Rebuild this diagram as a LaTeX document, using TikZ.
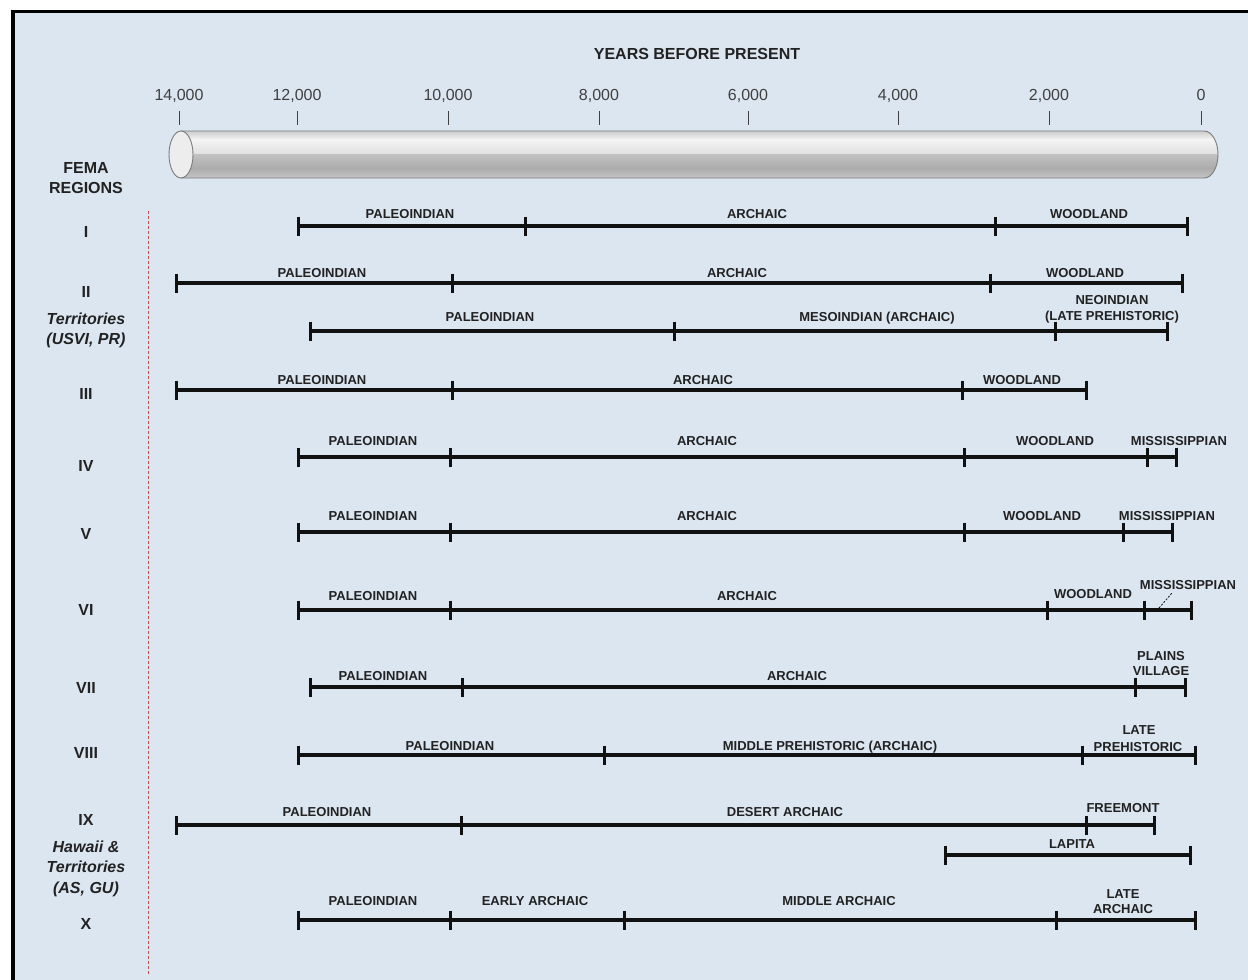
\documentclass[tikz,border=0pt]{standalone}
\usepackage{fontspec}
\setmainfont{Liberation Sans}
\definecolor{bg}{HTML}{DCE6F1}
\definecolor{ink}{HTML}{111111}
\definecolor{txt}{HTML}{222222}
\definecolor{yrc}{HTML}{404040}
\definecolor{reddash}{HTML}{C0504D}
\definecolor{cyA}{HTML}{C8C8C8}
\definecolor{cyB}{HTML}{F4F4F4}
\definecolor{cyC}{HTML}{E0E0E0}
\definecolor{cyD}{HTML}{C2C2C2}
\definecolor{cyE}{HTML}{ABABAB}
\definecolor{cyF}{HTML}{C8C8C8}
\definecolor{cyline}{HTML}{7A7A7A}
\definecolor{cycap}{HTML}{EDEDED}
\newcommand\tline[3]{%
  \foreach \xx [count=\i] in {#3}{%
    \coordinate (#1-\i) at (\xx,#2);
    \draw[tk] ([yshift=9.5pt]#1-\i) -- ([yshift=-9.5pt]#1-\i);
  }%
}
\begin{document}
\begin{tikzpicture}[x=1pt,y=-1pt,
  seg/.style={line width=3.2pt, draw=ink},
  tk/.style={line width=3pt, draw=ink},
  lab/.style={font=\bfseries\fontsize{13}{15}\selectfont, text=txt, inner sep=0pt, anchor=base},
  reg/.style={font=\bfseries\fontsize{16}{18}\selectfont, text=txt, inner sep=0pt, anchor=base},
  regit/.style={font=\bfseries\itshape\fontsize{16}{18}\selectfont, text=txt, inner sep=0pt, anchor=base},
  yr/.style={font=\fontsize{16}{18}\selectfont, text=yrc, inner sep=0pt, anchor=base},
  axtick/.style={draw=yrc, line width=1pt},
  redline/.style={draw=reddash, line width=0.8pt, dash pattern=on 3pt off 2pt},
  leader/.style={draw=ink, line width=0.8pt, dash pattern=on 2pt off 1.5pt}]
\useasboundingbox (0,0) rectangle (1248,980);
\fill[white] (0,0) rectangle (1248,980);
\fill[bg] (13,11.5) rectangle (1248,980);
\draw[line width=3.8pt] (13,980) -- (13,11.5) -- (1248,11.5);

% title
\node[font=\bfseries\fontsize{16}{18}\selectfont, text=txt, inner sep=0pt, anchor=base] (title) at (697,59) {YEARS BEFORE PRESENT};

% axis years
\foreach \xx/\lbl [count=\k] in {179/{14,000},297/{12,000},448/{10,000},599/{8,000},748/{6,000},898/{4,000},1049/{2,000},1201/0}{
  \node[yr] (yr\k) at (\xx,100) {\lbl};
  \coordinate (ta\k) at (\xx,111);
  \coordinate (tb\k) at (\xx,125);
  \draw[axtick] (ta\k) -- (tb\k);
}

% cylinder
\begin{scope}
\clip (181,131) -- (1204,131) arc[start angle=-90,end angle=90,x radius=14,y radius=23.5] -- (181,178) -- cycle;
\shade[top color=cyA, bottom color=cyB] (160,130) rectangle (1230,139.5);
\shade[top color=cyB, bottom color=cyC] (160,139) rectangle (1230,154.5);
\shade[top color=cyD, bottom color=cyE] (160,154) rectangle (1230,168.5);
\shade[top color=cyE, bottom color=cyF] (160,168) rectangle (1230,179);
\end{scope}
\draw[cyline, line width=0.9pt] (181,131) -- (1204,131) arc[start angle=-90,end angle=90,x radius=14,y radius=23.5] -- (181,178);
\draw[fill=cycap, draw=cyline, line width=0.9pt] (181,154.5) ellipse[x radius=12, y radius=23.5];

% region labels
\node[reg] (fema) at (86,173) {FEMA};
\node[reg] (regions) at (86,193) {REGIONS};
\node[reg] (gI) at (86,237) {I};
\node[reg] (gII) at (86,297) {II};
\node[regit] (gIIa) at (86,324) {Territories};
\node[regit] (gIIb) at (86,344) {(USVI, PR)};
\node[reg] (gIII) at (86,399) {III};
\node[reg] (gIV) at (86,471) {IV};
\node[reg] (gV) at (86,539) {V};
\node[reg] (gVI) at (86,615) {VI};
\node[reg] (gVII) at (86,693) {VII};
\node[reg] (gVIII) at (86,758) {VIII};
\node[reg] (gIX) at (86,825) {IX};
\node[regit] (gIXa) at (86,852) {Hawaii \&};
\node[regit] (gIXb) at (86,872) {Territories};
\node[regit] (gIXc) at (86,893) {(AS, GU)};
\node[reg] (gX) at (86,929) {X};

% red dashed divider
\coordinate (rdA) at (148,211);
\coordinate (rdB) at (148,975);
\draw[redline] (rdA) -- (rdB);

% timelines
\tline{ra}{226}{298,525,995,1187}
\draw[seg] (ra-1) -- (ra-4);
\node[lab] (ra-l1) at (410,218) {PALEOINDIAN};
\node[lab] (ra-l2) at (757,218) {ARCHAIC};
\node[lab] (ra-l3) at (1089,218) {WOODLAND};

\tline{rb}{283}{176,452,990,1182}
\draw[seg] (rb-1) -- (rb-4);
\node[lab] (rb-l1) at (322,277) {PALEOINDIAN};
\node[lab] (rb-l2) at (737,277) {ARCHAIC};
\node[lab] (rb-l3) at (1085,277) {WOODLAND};

\tline{rc}{331}{310,674,1055,1167}
\draw[seg] (rc-1) -- (rc-4);
\node[lab] (rc-l1) at (490,321) {PALEOINDIAN};
\node[lab] (rc-l2) at (877,321) {MESOINDIAN (ARCHAIC)};
\node[lab] (rc-l3) at (1112,304) {NEOINDIAN};
\node[lab] (rc-l4) at (1112,320.5) {(LATE PREHISTORIC)};

\tline{rd}{390}{176,452,962,1086}
\draw[seg] (rd-1) -- (rd-4);
\node[lab] (rd-l1) at (322,384) {PALEOINDIAN};
\node[lab] (rd-l2) at (703,384) {ARCHAIC};
\node[lab] (rd-l3) at (1022,384) {WOODLAND};

\tline{re}{457}{298,450,964,1147,1176}
\draw[seg] (re-1) -- (re-5);
\node[lab] (re-l1) at (373,445) {PALEOINDIAN};
\node[lab] (re-l2) at (707,445) {ARCHAIC};
\node[lab] (re-l3) at (1055,445) {WOODLAND};
\node[lab] (re-l4) at (1179,445) {MISSISSIPPIAN};

\tline{rf}{532}{298,450,964,1123,1172}
\draw[seg] (rf-1) -- (rf-5);
\node[lab] (rf-l1) at (373,520) {PALEOINDIAN};
\node[lab] (rf-l2) at (707,520) {ARCHAIC};
\node[lab] (rf-l3) at (1042,520) {WOODLAND};
\node[lab] (rf-l4) at (1167,520) {MISSISSIPPIAN};

\tline{rg}{610}{298,450,1047,1144,1191}
\draw[seg] (rg-1) -- (rg-5);
\node[lab] (rg-l1) at (373,600) {PALEOINDIAN};
\node[lab] (rg-l2) at (747,600) {ARCHAIC};
\node[lab] (rg-l3) at (1093,598) {WOODLAND};
\node[lab] (rg-l4) at (1188,589) {MISSISSIPPIAN};
\coordinate (ldA) at (1159,608);
\coordinate (ldB) at (1172,593);
\draw[leader] (ldA) -- (ldB);

\tline{rh}{687}{310,462,1135,1185}
\draw[seg] (rh-1) -- (rh-4);
\node[lab] (rh-l1) at (383,680) {PALEOINDIAN};
\node[lab] (rh-l2) at (797,680) {ARCHAIC};
\node[lab] (rh-l3) at (1161,660) {PLAINS};
\node[lab] (rh-l4) at (1161,675) {VILLAGE};

\tline{ri}{755}{298,604,1082,1195}
\draw[seg] (ri-1) -- (ri-4);
\node[lab] (ri-l1) at (450,750) {PALEOINDIAN};
\node[lab] (ri-l2) at (830,750) {MIDDLE PREHISTORIC (ARCHAIC)};
\node[lab] (ri-l3) at (1139,734) {LATE};
\node[lab] (ri-l4) at (1138,751) {PREHISTORIC};

\tline{rj}{825}{176,461,1086,1154}
\draw[seg] (rj-1) -- (rj-4);
\node[lab] (rj-l1) at (327,816) {PALEOINDIAN};
\node[lab] (rj-l2) at (785,816) {DESERT ARCHAIC};
\node[lab] (rj-l3) at (1123,812) {FREEMONT};

\tline{rk}{855}{945,1190}
\draw[seg] (rk-1) -- (rk-2);
\node[lab] (rk-l1) at (1072,848) {LAPITA};

\tline{rl}{920}{298,450,624,1056,1195}
\draw[seg] (rl-1) -- (rl-5);
\node[lab] (rl-l1) at (373,905) {PALEOINDIAN};
\node[lab] (rl-l2) at (535,905) {EARLY ARCHAIC};
\node[lab] (rl-l3) at (839,905) {MIDDLE ARCHAIC};
\node[lab] (rl-l4) at (1123,898) {LATE};
\node[lab] (rl-l5) at (1123,913) {ARCHAIC};
\end{tikzpicture}
\end{document}
